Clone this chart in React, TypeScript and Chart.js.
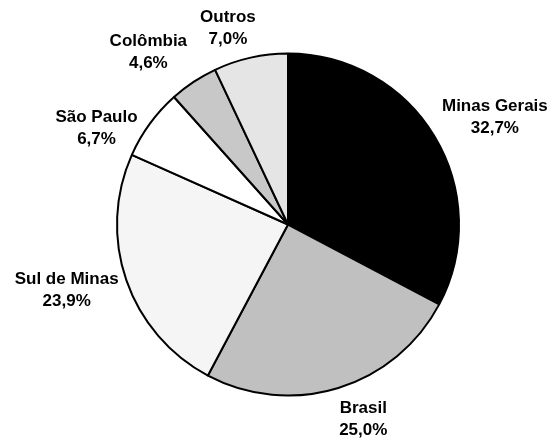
import React, { useEffect, useRef } from "react";
import { Chart, registerables } from "chart.js";

Chart.register(...registerables);

const categories = ["Minas Gerais", "Brasil", "Sul de Minas", "São Paulo", "Colômbia", "Outros"];
const shares = [32.7, 25.0, 23.9, 6.7, 4.6, 7.0];
const sliceColors = ["#000000", "#c0c0c0", "#f5f5f5", "#ffffff", "#c8c8c8", "#e5e5e5"];
// label placement: angle tweak (deg) from slice mid-angle, distance as factor of radius
const labelAngleShift = [3.5, -4.1, 2.8, -9.2, -5.3, -4.3];
const labelDistance = [1.365, 1.216, 1.348, 1.256, 1.303, 1.207];

const labelPlugin = {
  id: "outerLabels",
  afterDatasetsDraw(chart: any) {
    const ctx = chart.ctx;
    const meta = chart.getDatasetMeta(0);
    ctx.save();
    ctx.font = "bold 17px 'Liberation Sans', Arial, sans-serif";
    ctx.fillStyle = "#000";
    ctx.textAlign = "center";
    ctx.textBaseline = "alphabetic";
    meta.data.forEach((arc: any, i: number) => {
      const p = arc.getProps(["x", "y", "startAngle", "endAngle", "outerRadius"], true);
      const mid = (p.startAngle + p.endAngle) / 2 + (labelAngleShift[i] * Math.PI) / 180;
      const d = p.outerRadius * labelDistance[i];
      const cx = p.x + Math.cos(mid) * d;
      const cy = p.y + Math.sin(mid) * d;
      ctx.fillText(categories[i], cx, cy - 5);
      ctx.fillText(shares[i].toFixed(1).replace(".", ",") + "%", cx, cy + 17);
    });
    ctx.restore();
  },
};

export default function App() {
  const ref = useRef<HTMLCanvasElement>(null);
  useEffect(() => {
    if (!ref.current) return;
    const chart = new Chart(ref.current, {
      type: "pie",
      data: {
        labels: categories,
        datasets: [
          {
            data: shares,
            backgroundColor: sliceColors,
            borderColor: "#000000",
            borderWidth: 2,
            radius: 171,
          } as any,
        ],
      },
      options: {
        animation: false,
        responsive: false,
        layout: { padding: { left: 25, right: 0, top: 7, bottom: 0 } },
        plugins: { legend: { display: false }, tooltip: { enabled: false } },
      },
      plugins: [labelPlugin],
    });
    return () => chart.destroy();
  }, []);
  return (
    <div style={{ position: "absolute", left: 0, top: 0, width: 551, height: 442, background: "#fff" }}>
      <canvas ref={ref} width={551} height={442} />
    </div>
  );
}
